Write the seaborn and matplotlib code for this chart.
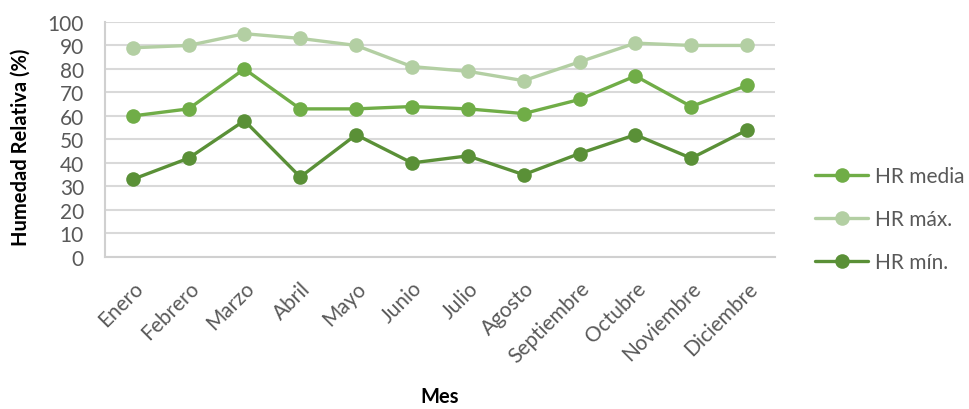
import matplotlib
matplotlib.use("Agg")
import matplotlib.pyplot as plt
import seaborn as sns
import pandas as pd

meses = ["Enero", "Febrero", "Marzo", "Abril", "Mayo", "Junio", "Julio",
         "Agosto", "Septiembre", "Octubre", "Noviembre", "Diciembre"]
hr_media = [60, 63, 80, 63, 63, 64, 63, 61, 67, 77, 64, 73]
hr_max = [89, 90, 95, 93, 90, 81, 79, 75, 83, 91, 90, 90]
hr_min = [33, 42, 58, 34, 52, 40, 43, 35, 44, 52, 42, 54]
series = ["HR media", "HR máx.", "HR mín."]
colors = ["#70AD47", "#B3CFA3", "#5A9037"]

sns.set_theme(style="white")
plt.rcParams["font.family"] = ["Lato", "DejaVu Sans"]

rows = []
for name, vals in zip(series, [hr_media, hr_max, hr_min]):
    for i, (m, v) in enumerate(zip(meses, vals)):
        rows.append({"Mes": m, "idx": i, "Serie": name, "HR": v})
df = pd.DataFrame(rows)

fig = plt.figure(figsize=(9.7, 4.1), dpi=100)
ax = fig.add_axes([0.108, 0.371, 0.691, 0.573])

sns.lineplot(data=df, x="idx", y="HR", hue="Serie", hue_order=series,
             palette=dict(zip(series, colors)), marker="o", markersize=10.5,
             markeredgewidth=0, linewidth=2.4, ax=ax, legend=True)

ax.set_xlim(-0.5, 11.5)
ax.set_ylim(0, 100)
ax.set_yticks(range(0, 101, 10))
ax.set_xticks(range(len(meses)))
ax.set_xticklabels(meses, rotation=45, ha="right", rotation_mode="anchor",
                   fontsize=15, color="#595959")
ax.tick_params(axis="y", labelsize=15, labelcolor="#595959", length=0, pad=15)
ax.tick_params(axis="x", length=0, pad=15)
ax.grid(axis="y", color="#D9D9D9", linewidth=1.5)
ax.set_axisbelow(True)
for s in ["top", "right"]:
    ax.spines[s].set_visible(False)
ax.spines["left"].set_color("#D0D0D0")
ax.spines["bottom"].set_color("#D0D0D0")
ax.spines["left"].set_linewidth(1.5)
ax.spines["bottom"].set_linewidth(1.5)

ax.set_ylabel("Humedad Relativa (%)", fontsize=14.5, fontweight="bold", color="black")
ax.yaxis.set_label_coords(-0.11, 0.47)
ax.set_xlabel("Mes", fontsize=14.5, fontweight="bold", color="black")
ax.xaxis.set_label_coords(0.5, -0.55)

leg = ax.legend(loc="center left", bbox_to_anchor=(0.832, 0.463),
                bbox_transform=fig.transFigure, borderaxespad=0,
                frameon=False, fontsize=15, handlelength=2.55,
                labelspacing=1.1, handletextpad=0.33)
for t in leg.get_texts():
    t.set_color("#595959")

fig.savefig("out.png", dpi=100)
